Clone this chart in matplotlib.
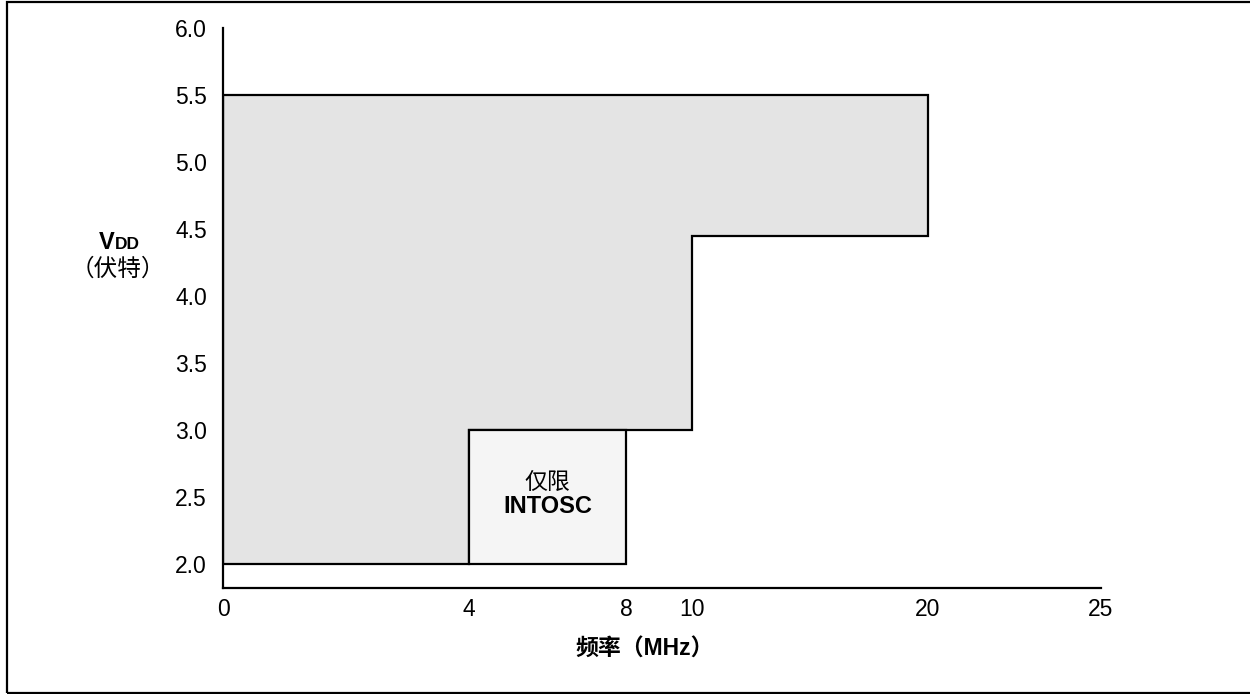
import numpy as np
import matplotlib.pyplot as plt
from matplotlib.patches import Rectangle

plt.rcParams['font.family'] = ['Liberation Sans', 'Noto Sans CJK SC', 'DejaVu Sans']

W, H = 1250, 694

# tick values
freq_ticks = [0, 4, 8, 10, 20, 25]
vdd_ticks = [2.0, 2.5, 3.0, 3.5, 4.0, 4.5, 5.0, 5.5, 6.0]

# operating region outline (MHz, V)
region_f = [0, 0, 20, 20, 10, 10, 4, 4]
region_v = [2.0, 5.5, 5.5, 4.45, 4.45, 3.0, 3.0, 2.0]

# INTOSC-only box (MHz, V)
intosc_f = [4, 8]
intosc_v = [2.0, 3.0]

# the frequency axis in the datasheet figure is not linear
f_px = [0, 246, 403, 469, 705, 878]


def f_fwd(x):
    return np.interp(x, freq_ticks, f_px)


def f_inv(u):
    return np.interp(u, f_px, freq_ticks)


def px(x, y):
    return x / W, 1 - y / H


fig = plt.figure(figsize=(W / 100, H / 100), dpi=100)
ax = fig.add_axes([223 / W, (H - 588) / H, (1101 - 223) / W, (588 - 28) / H])
ax.set_xscale('function', functions=(f_fwd, f_inv))
ax.set_xlim(0, 25)
ax.set_ylim(1.817, 6.0)

ax.fill(region_f, region_v, facecolor='#e4e4e4', edgecolor='black', lw=1.6, zorder=2)
bx = [intosc_f[0], intosc_f[1], intosc_f[1], intosc_f[0]]
by = [intosc_v[0], intosc_v[0], intosc_v[1], intosc_v[1]]
ax.fill(bx, by, facecolor='#f5f5f5', edgecolor='black', lw=1.6, zorder=3)

ax.annotate('仅限', (np.mean(intosc_f), np.mean(intosc_v)), xytext=(0, 10.5),
            textcoords='offset points', ha='center', va='center', fontsize=16.5, zorder=4)
ax.annotate('INTOSC', (np.mean(intosc_f), np.mean(intosc_v)), xytext=(0, -7.5),
            textcoords='offset points', ha='center', va='center', fontsize=17,
            fontweight='bold', zorder=4)

ax.set_xticks(freq_ticks)
ax.set_xticklabels([str(v) for v in freq_ticks])
ax.set_yticks(vdd_ticks)
ax.set_yticklabels(['%.1f' % v for v in vdd_ticks])
ax.tick_params(length=0, labelsize=16.5)
ax.tick_params(axis='y', pad=11.5)
ax.tick_params(axis='x', pad=7)

for s in ['top', 'right']:
    ax.spines[s].set_visible(False)
for s in ['left', 'bottom']:
    ax.spines[s].set_linewidth(1.6)

# axis labels
x, y = px(115, 249)
fig.text(x, y, 'V', fontsize=17, fontweight='bold', ha='right', va='baseline')
fig.text(x, y, 'DD', fontsize=12.5, fontweight='bold', ha='left', va='baseline')
x, y = px(118, 270)
fig.text(x, y, '（伏特）', fontsize=17, ha='center', va='center')
x, y = px(645, 649)
fig.text(x, y, '频率（MHz）', fontsize=16.5, fontweight='bold', ha='center', va='center')

# frame around the figure (right edge runs off the picture)
fig.patches.append(Rectangle(px(7, 693), (1260 - 7) / W, (693 - 2) / H,
                             transform=fig.transFigure, fill=False,
                             edgecolor='black', lw=1.6))

fig.savefig('out.png', dpi=100)
